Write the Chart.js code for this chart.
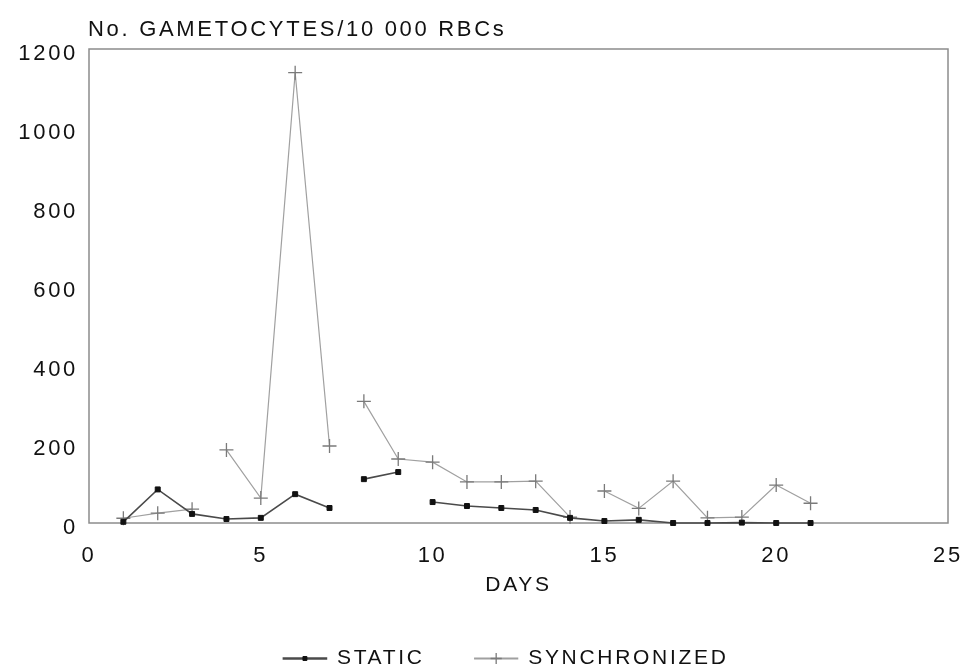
<!DOCTYPE html>
<html>
<head>
<meta charset="utf-8">
<title>Gametocytes per 10 000 RBCs</title>
<script src="https://cdn.jsdelivr.net/npm/chart.js@4.4.0/dist/chart.umd.min.js"></script>
<style>
  html, body { margin: 0; padding: 0; background: #fff; }
  #wrap { width: 971px; height: 671px; }
</style>
</head>
<body>
<div id="wrap"><canvas id="gametoChart" width="971" height="671"></canvas></div>
<script>
const days = [1, 2, 3, 4, 5, 6, 7, 8, 9, 10, 11, 12, 13, 14, 15, 16, 17, 18, 19, 20, 21];
const staticCounts = [3, 85, 23, 10, 13, 73, 38, 111, 129, 53, 43, 38, 33, 13, 5, 8, 0, 0, 1, 0, 0];
const syncCounts = [12, 25, 35, 185, 63, 1140, 195, 308, 162, 154, 104, 104, 106, 15, 81, 37, 106, 13, 15, 96, 50];

// days after which the line is not continued to the next day
const staticBreaks = [7, 9];
const syncBreaks = [3, 7, 14];

const xTicks = [0, 5, 10, 15, 20, 25];
const yTicks = [0, 200, 400, 600, 800, 1000, 1200];

const yTitle = 'No. GAMETOCYTES/10 000 RBCs';
const xTitle = 'DAYS';
const seriesNames = ['STATIC', 'SYNCHRONIZED'];

const FONT = '"Liberation Sans", Arial, Helvetica, sans-serif';
const TRACKING = '2.7px';
const INK = '#111';
const LEGEND_SHIFT = 32;

const points = vals => days.map((d, i) => ({ x: d, y: vals[i] }));

// wide letter spacing for all canvas text
const tracking = {
  id: 'tracking',
  beforeUpdate(chart) { chart.ctx.letterSpacing = TRACKING; },
  beforeDraw(chart) { chart.ctx.letterSpacing = TRACKING; }
};

// box round the plot area
const frame = {
  id: 'frame',
  beforeDatasetsDraw(chart) {
    const { ctx, chartArea: a } = chart;
    ctx.save();
    ctx.strokeStyle = '#8c8c8c';
    ctx.lineWidth = 1.5;
    ctx.strokeRect(a.left, a.top, a.right - a.left, a.bottom - a.top);
    ctx.restore();
  }
};

// y-axis caption written above the plot, left aligned with the axis
const topCaption = {
  id: 'topCaption',
  afterDraw(chart) {
    const { ctx, chartArea: a } = chart;
    ctx.save();
    ctx.letterSpacing = TRACKING;
    ctx.font = '22px ' + FONT;
    ctx.fillStyle = INK;
    ctx.textAlign = 'left';
    ctx.textBaseline = 'alphabetic';
    ctx.fillText(yTitle, a.left - 1, a.top - 13);
    ctx.restore();
  }
};

// centre the legend under the plot area rather than the whole canvas
const legendShift = {
  id: 'legendShift',
  afterUpdate(chart) {
    const lg = chart.legend;
    if (!lg) return;
    lg.left += LEGEND_SHIFT;
    lg.right += LEGEND_SHIFT;
    (lg.legendHitBoxes || []).forEach(b => { b.left += LEGEND_SHIFT; });
  }
};

// put each series marker in the middle of its legend line
const legendMarkers = {
  id: 'legendMarkers',
  afterDraw(chart) {
    const lg = chart.legend;
    if (!lg || !lg.legendHitBoxes) return;
    const ctx = chart.ctx;
    const bw = lg.options.labels.boxWidth;
    lg.legendHitBoxes.forEach((box, i) => {
      const ds = chart.data.datasets[i];
      ctx.save();
      ctx.fillStyle = ds.pointBackgroundColor;
      ctx.strokeStyle = ds.pointBorderColor;
      ctx.lineWidth = ds.pointBorderWidth;
      Chart.helpers.drawPoint(ctx, {
        pointStyle: ds.pointStyle,
        radius: ds.pointRadius * 0.8,
        borderWidth: ds.pointBorderWidth
      }, box.left + bw / 2, box.top + box.height / 2);
      ctx.restore();
    });
  }
};

const plainNumber = v => String(v);

new Chart(document.getElementById('gametoChart'), {
  type: 'line',
  data: {
    datasets: [
      {
        label: seriesNames[0],
        data: points(staticCounts),
        borderColor: '#4a4a4a',
        backgroundColor: '#4a4a4a',
        borderWidth: 1.6,
        pointStyle: 'rect',
        pointRadius: 3.5,
        pointBackgroundColor: '#111',
        pointBorderColor: '#111',
        pointBorderWidth: 1,
        clip: false,
        segment: {
          borderColor: c => staticBreaks.includes(days[c.p0DataIndex]) ? 'rgba(0,0,0,0)' : '#4a4a4a'
        }
      },
      {
        label: seriesNames[1],
        data: points(syncCounts),
        borderColor: '#a0a0a0',
        backgroundColor: '#a0a0a0',
        borderWidth: 1.2,
        pointStyle: 'cross',
        pointRadius: 7,
        pointBackgroundColor: '#7a7a7a',
        pointBorderColor: '#7a7a7a',
        pointBorderWidth: 1.3,
        clip: false,
        segment: {
          borderColor: c => syncBreaks.includes(days[c.p0DataIndex]) ? 'rgba(0,0,0,0)' : '#a0a0a0'
        }
      }
    ]
  },
  options: {
    responsive: false,
    animation: false,
    layout: { padding: { top: 49, right: 23, left: 0, bottom: 6 } },
    scales: {
      x: {
        type: 'linear',
        min: xTicks[0],
        max: xTicks[xTicks.length - 1],
        afterBuildTicks: s => { s.ticks = xTicks.map(v => ({ value: v })); },
        afterFit: s => { s.height = 75; s.paddingLeft = 0; s.paddingRight = 0; },
        grid: { display: false },
        border: { display: false },
        ticks: { padding: 12, color: INK, font: { family: FONT, size: 22 }, callback: plainNumber },
        title: {
          display: true,
          text: xTitle,
          color: INK,
          padding: 0,
          font: { family: FONT, size: 21 }
        }
      },
      y: {
        min: yTicks[0],
        max: yTicks[yTicks.length - 1],
        afterBuildTicks: s => { s.ticks = yTicks.map(v => ({ value: v })); },
        afterFit: s => { s.width = 89; },
        grid: { display: false },
        border: { display: false },
        ticks: { padding: 3, labelOffset: 5, color: INK, font: { family: FONT, size: 22 }, callback: plainNumber }
      }
    },
    plugins: {
      legend: {
        position: 'bottom',
        maxHeight: 67,
        labels: {
          color: INK,
          font: { family: FONT, size: 21 },
          boxWidth: 43,
          boxHeight: 1,
          padding: 50
        }
      },
      tooltip: { enabled: false }
    }
  },
  plugins: [tracking, frame, topCaption, legendShift, legendMarkers]
});
</script>
</body>
</html>
